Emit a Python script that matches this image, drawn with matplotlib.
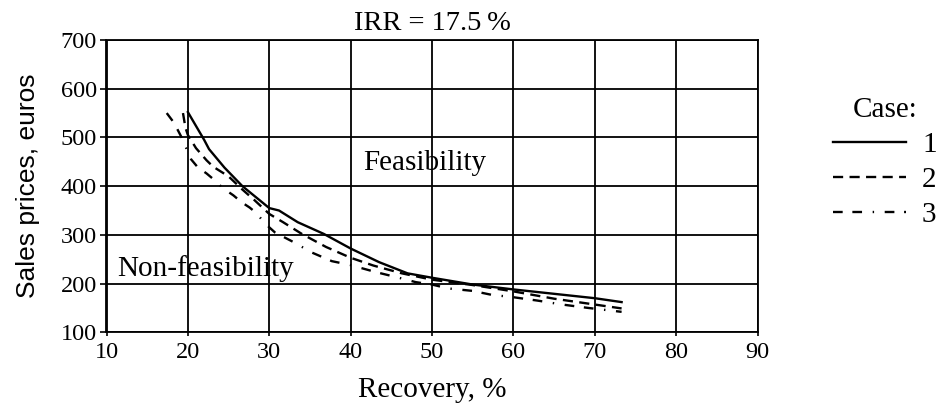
import matplotlib
matplotlib.use("Agg")
import matplotlib.pyplot as plt

# ---- data ----
case1_x = [20, 22, 22.6, 24.5, 26.7, 30, 31.2, 33.5, 36.7, 40, 43.5, 47, 50, 55, 60, 65, 70, 73.3]
case1_y = [552, 495, 476, 438, 400, 355, 350, 326, 302, 272, 244, 221, 212, 198, 188, 179, 170, 162]

case2_x = [19.4, 19.7, 20, 21, 22.3, 23.1, 25, 26.7, 28.2, 30, 31.7, 34, 37, 40, 42.8, 46.3, 50, 55, 60, 65, 70, 73.3]
case2_y = [550, 520, 505, 478, 453, 440, 420, 393, 371, 343, 326, 302, 275, 253, 237, 221, 208, 197, 184, 169, 157, 149]

case3_x = [17.4, 18.3, 19.2, 20.4, 21.2, 22.3, 23.3, 24.3, 25.6, 26.6, 27.6, 28.4, 29.5, 30.7, 31.5, 33, 35.2,
           37.7, 40, 43, 46.4, 48, 50, 52, 55, 57.3, 60, 63, 66, 69.2, 73.3]
case3_y = [550, 530, 501, 455, 439, 426, 412, 396, 381, 367, 356, 345, 323, 305, 298, 285, 264,
           246, 238, 224, 210, 203, 198, 190, 185, 177, 172, 165, 157, 150, 142]

case_labels = ["1", "2", "3"]
x_ticks = [10, 20, 30, 40, 50, 60, 70, 80, 90]
y_ticks = [100, 200, 300, 400, 500, 600, 700]

title_text = "IRR = 17.5\u2009%"
xlabel_text = "Recovery, %"
ylabel_text = "Sales prices, euros"
region_labels = ["Feasibility", "Non-feasibility"]
legend_title = "Case:"

# ---- figure ----
serif = "Liberation Serif"
fig = plt.figure(figsize=(9.53, 4.04), dpi=100)
ax = fig.add_axes([106.5 / 953, 1 - 332.3 / 404, (757.5 - 106.5) / 953, (332.3 - 40) / 404])

lw = 1.7
l1, = ax.plot(case1_x, case1_y, color="black", lw=lw, solid_joinstyle="round")
l2, = ax.plot(case2_x, case2_y, color="black", lw=lw, linestyle=(0, (4.3, 2.7)))
l3, = ax.plot(case3_x, case3_y, color="black", lw=lw,
              linestyle=(0, (4.1, 4.1, 4.1, 4.5, 0.6, 4.5)))

ax.set_xlim(10, 90)
ax.set_ylim(100, 700)
ax.set_xticks(x_ticks)
ax.set_yticks(y_ticks)
ax.grid(True, color="black", lw=1.3)
for s in ax.spines.values():
    s.set_linewidth(1.3)
ax.tick_params(axis="x", direction="out", length=3, width=1.2, pad=4, labelsize=17.5)
ax.tick_params(axis="y", direction="out", length=4, width=1.2, pad=3, labelsize=17.5)
for lab in ax.get_xticklabels() + ax.get_yticklabels():
    lab.set_fontfamily(serif)

ax.set_title(title_text, fontsize=20.5, fontfamily=serif, pad=7)
ax.set_xlabel(xlabel_text, fontsize=21, fontfamily=serif, labelpad=10)
ax.set_ylabel(ylabel_text, fontsize=19, fontfamily="Liberation Sans", labelpad=15)

ax.text(41.6, 448, region_labels[0], fontsize=21, fontfamily=serif, ha="left", va="center")
ax.text(11.3, 231, region_labels[1], fontsize=21, fontfamily=serif, ha="left", va="center")

leg = fig.legend([l1, l2, l3], case_labels, title=legend_title,
                 loc="upper left", bbox_to_anchor=(833 / 953, 1 - 97 / 404),
                 frameon=False, borderpad=0, borderaxespad=0,
                 handlelength=2.5, handletextpad=0.55, labelspacing=0.3,
                 prop={"family": serif, "size": 21},
                 title_fontproperties={"family": serif, "size": 21})

fig.savefig("out.png", dpi=100)
